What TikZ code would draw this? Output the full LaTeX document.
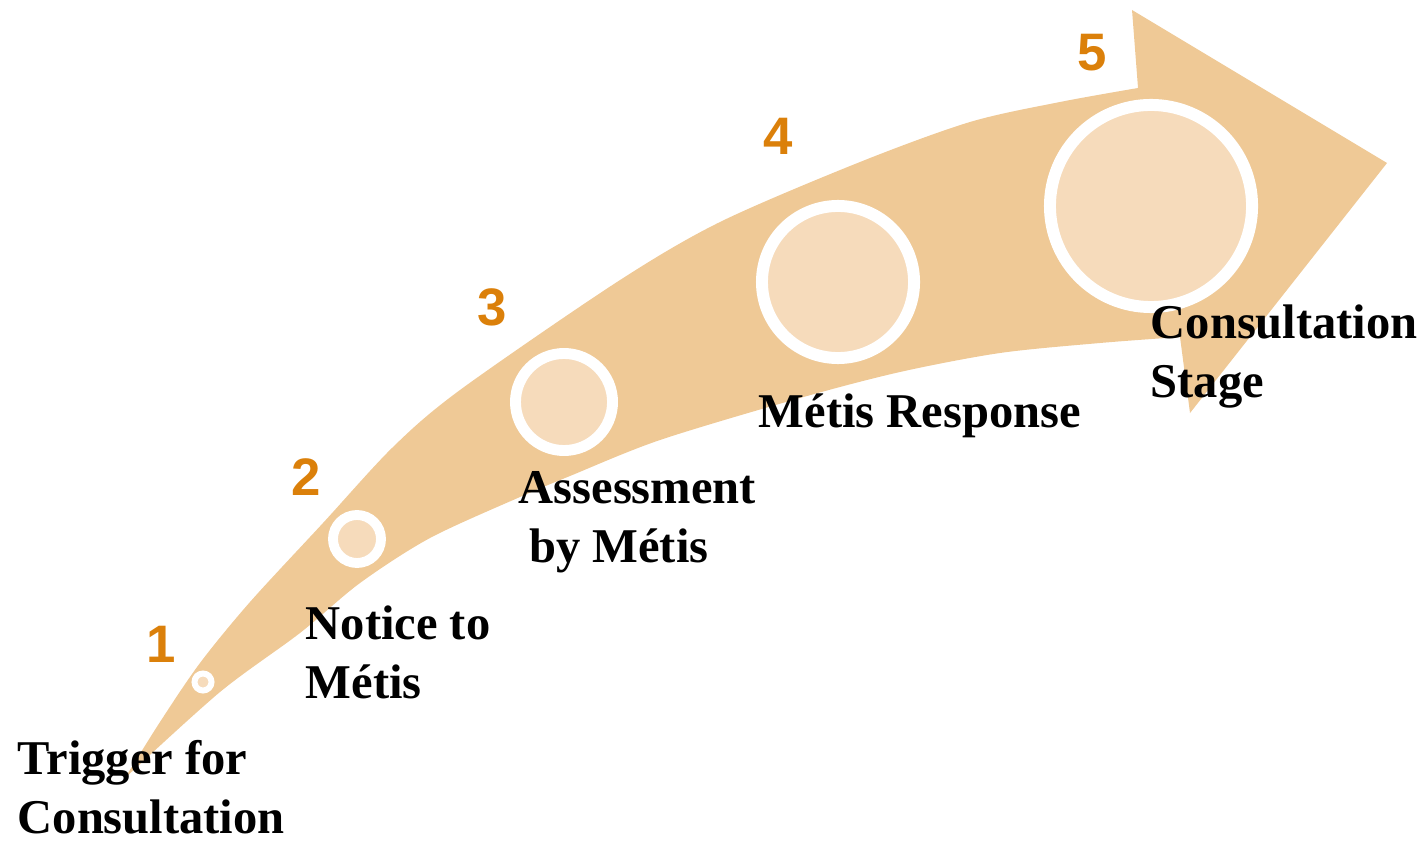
\documentclass[tikz,border=0pt]{standalone}
\usepackage{fontspec}
\setmainfont{Liberation Serif}
\newfontfamily\digitfont{Liberation Sans}
\usetikzlibrary{positioning}

\definecolor{arrowtan}{RGB}{239,201,150}
\definecolor{circlefill}{RGB}{246,219,187}
\definecolor{steporange}{RGB}{219,128,10}

\tikzset{
  labeltext/.style={font=\fontsize{13.8}{16.5}\selectfont\bfseries, align=left, anchor=base west, inner sep=0pt},
  stepnum/.style={font=\digitfont\fontsize{15}{15}\selectfont\bfseries, text=steporange, inner sep=0pt},
  stagedot/.style={circle, fill=circlefill, draw=white, inner sep=0pt}
}

\begin{document}
\begin{tikzpicture}[x=0.01cm, y=-0.01cm]
        \useasboundingbox (0,0) rectangle (1428,843);

        % curved arrow
        \fill[arrowtan] plot[smooth, tension=0.5] coordinates {(125,778) (160,722) (200,663) (250,602) (323,523) (393,447) (460,390) (617,282) (720,222) (860,162) (970,122) (1060,102) (1138,88)}
            -- (1132,10) -- (1387,163) -- (1190,413) -- (1180,337)
            -- plot[smooth, tension=0.5] coordinates {(1180,337) (1100,343) (1000,353) (900,372) (800,398) (660,440) (570,476) (520,497) (430,538) (360,583) (300,633) (220,692) (125,778)} -- cycle;

        % stage circles
        \foreach \name/\cx/\cy/\dia/\lw in {c1/203/682/0.17/1.7, c2/357/539/0.48/2.8, c3/564/402/0.97/3.1, c4/838/282/1.52/3.4, c5/1151/206/2.02/3.4}
            \node[stagedot, minimum size=\dia cm, line width=\lw pt] (\name) at (\cx,\cy) {};

        \node[stepnum] (n1) at (161,644) {1};
        \node[stepnum] (n2) at (306,477) {2};
        \node[stepnum] (n3) at (492,307) {3};
        \node[stepnum] (n4) at (778,136) {4};
        \node[stepnum] (n5) at (1092,53) {5};

        % anchor is on the last line
        \node[labeltext] (trigger) at (17,833) {Trigger for\\Consultation};
        \node[labeltext] (notice) at (305,698) {Notice to\\Métis};
        \node[labeltext] (assess) at (518,562) {Assessment\\\hspace{3pt}by Métis};
        \node[labeltext] (response) at (758,427) {Métis Response};
        \node[labeltext] (consult) at (1150,397) {Consultation\\Stage};
\end{tikzpicture}
\end{document}
